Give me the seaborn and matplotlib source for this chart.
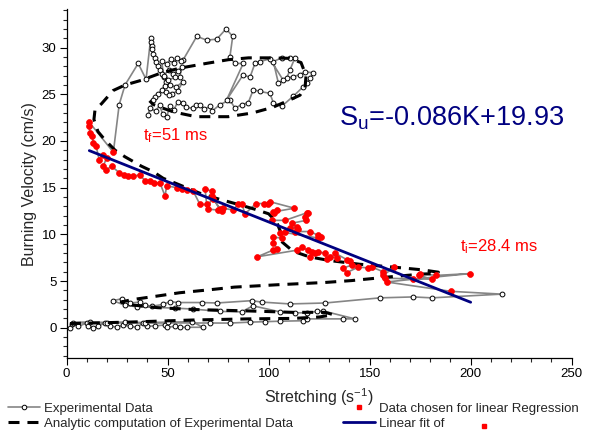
import matplotlib
matplotlib.use('Agg')
import matplotlib.pyplot as plt
from matplotlib.lines import Line2D
from matplotlib.ticker import MultipleLocator
import pandas as pd
import seaborn as sns

# experimental points before the regression window (low stretch region)
early_k = [1.6, 2.5, 5.7, 9.9, 10.7, 13.2, 15.6, 19.0, 21.4, 24.8, 28.0, 31.3, 34.7, 37.9, 39.6, 43.7, 48.7, 49.5, 53.6, 56.1, 59.4, 67.6,
           61.9, 50.3, 38.8, 28.9, 19.8, 11.5, 3.3,
           70.9, 80.8, 90.7, 98.2, 105.6, 117.0, 118.8, 136.8, 142.7,
           126.9, 123.8, 118.8, 113.0, 105.6, 92.2, 86.6, 75.9, 62.5,
           53.6, 34.7, 28.9, 22.9, 27.2, 31.3, 36.3, 38.8, 42.1, 47.7, 51.1, 55.1, 66.8, 74.3, 91.6, 96.5, 110.5, 127.9, 155.1, 171.6, 180.7, 215.3]
early_su = [0.0, 0.45, 0.15, 0.5, 0.15, 0.0, 0.2, 0.5, 0.2, 0.05, 0.3, 0.15, 0.05, 0.5, 0.15, 0.2, 0.3, 0.05, 0.15, 0.05, 0.05, 0.05,
            0.65, 0.6, 0.55, 0.6, 0.55, 0.6, 0.55,
            0.5, 0.5, 0.6, 0.65, 0.7, 0.75, 0.95, 0.95, 0.95,
            1.8, 1.75, 1.6, 1.6, 1.7, 2.35, 1.7, 1.75, 2.0,
            2.1, 2.25, 2.4, 2.9, 3.1, 2.65, 2.75, 2.4, 2.3, 2.5, 2.8, 2.7, 2.7, 2.65, 2.9, 2.75, 2.55, 2.65, 3.2, 3.3, 3.2, 3.6]

# points chosen for the linear regression (t_i=28.4 ms -> t_f=51 ms)
reg_k = [190.1, 158.4, 171.6, 199.7, 182.8, 174.9, 174.6, 180.7, 157.6, 156.7,
         162.2, 156.7, 151.0, 149.3, 144.4, 138.6, 136.9, 141.1, 140.2, 138.6,
         132.8, 134.0, 130.3, 128.7, 127.9, 124.6, 122.9, 120.4, 121.3, 119.6,
         116.3, 113.9, 94.4, 102.0, 104.3, 102.3, 102.3, 106.4, 105.6, 108.1,
         124.6, 125.7, 124.6, 120.4, 113.0, 114.7, 110.5, 113.9, 111.7, 118.5,
         118.0, 119.6, 118.8, 108.1, 101.5, 102.6, 104.0, 102.3, 112.7, 100.6,
         99.8, 97.7, 93.7, 88.3, 86.6, 85.0, 82.5, 77.5, 76.7, 75.0,
         70.1, 71.8, 75.9, 72.6, 71.8, 68.5, 69.3, 66.0, 62.7, 59.4,
         56.9, 54.5, 49.5, 48.7, 46.2, 43.4, 41.2, 38.8, 36.3, 33.0,
         30.5, 28.4, 26.0, 22.3, 19.5, 18.1, 19.8, 17.8, 16.1, 14.5,
         13.2, 12.7, 11.5, 11.2, 11.2, 23.1]
reg_su = [3.9, 4.9, 5.2, 5.8, 5.6, 5.8, 5.6, 5.2, 5.3, 5.6,
          6.5, 6.0, 6.5, 6.4, 6.5, 5.9, 6.4, 6.7, 7.1, 7.3,
          8.0, 7.5, 7.6, 7.4, 8.0, 8.1, 8.0, 7.6, 8.1, 8.3,
          8.6, 8.3, 7.6, 8.3, 8.4, 9.1, 9.7, 9.6, 10.1, 10.2,
          9.6, 9.7, 9.9, 10.3, 10.3, 10.6, 10.7, 10.8, 11.2, 11.5,
          11.9, 12.3, 12.3, 11.5, 11.5, 12.3, 12.6, 12.4, 12.8, 13.5,
          13.2, 13.3, 13.3, 12.2, 13.3, 13.3, 12.6, 12.8, 12.5, 12.6,
          12.7, 14.1, 12.7, 13.8, 14.6, 14.9, 13.2, 13.2, 14.6, 14.8,
          14.9, 15.0, 15.2, 14.1, 15.5, 15.5, 15.7, 15.7, 16.4, 16.2,
          16.2, 16.4, 16.6, 17.3, 16.9, 17.3, 18.2, 18.5, 18.0, 19.5,
          19.8, 20.5, 20.8, 21.6, 22.0, 18.8]

# experimental points after t_f (upper loop)
late_k = [26.0, 28.9, 35.4, 39.3,
          41.6, 41.7, 42.0, 42.2, 42.7, 43.5, 44.2, 45.2, 46.2, 47.2, 48.4, 49.2, 48.7, 47.2, 45.2, 43.7, 42.9,
          40.4, 41.2, 44.0, 46.0, 47.5, 49.5, 51.1, 53.0, 55.0, 57.7,
          59.0, 62.7, 64.0, 66.0, 68.0, 70.9, 72.0, 75.9, 80.8, 83.3,
          86.6, 89.9, 92.4, 95.7, 100.6, 102.3, 106.4, 112.2, 117.1, 118.8,
          120.4, 122.1, 118.0, 115.5, 112.2, 108.9, 110.5, 113.0, 110.5, 106.4,
          102.3, 104.8, 107.2, 100.6, 95.7, 93.2, 90.7, 87.4, 79.2, 87.4,
          83.3, 80.8, 82.2, 78.9, 74.3, 69.3, 64.4, 57.7,
          56.5, 54.8, 53.0, 51.5, 49.5, 47.0, 48.0, 50.5, 52.5, 55.0,
          57.0, 56.0, 53.5, 50.0, 51.0, 54.0, 57.5, 55.0, 52.0, 49.0, 50.5]
late_su = [23.9, 26.0, 28.3, 26.6,
           31.0, 30.6, 30.2, 29.8, 29.3, 28.9, 28.5, 28.0, 27.6, 27.2, 26.8, 26.3, 25.9, 25.5, 25.0, 24.7, 24.4,
           22.8, 23.5, 23.2, 23.8, 22.9, 22.6, 23.7, 23.3, 24.2, 24.1,
           23.6, 23.5, 23.9, 23.9, 23.4, 23.7, 23.2, 23.9, 24.4, 23.5,
           23.9, 24.1, 25.5, 25.3, 25.1, 24.1, 23.7, 24.8, 25.8, 26.2,
           26.7, 27.3, 27.4, 27.1, 26.9, 26.7, 27.6, 28.9, 28.9, 28.9,
           28.5, 26.2, 26.5, 28.8, 28.5, 28.3, 26.8, 27.1, 24.4, 28.3,
           28.3, 29.0, 31.2, 32.0, 30.9, 30.8, 31.2, 28.7,
           28.6, 28.9, 28.4, 28.8, 28.2, 28.6, 27.0, 27.6, 27.2, 27.5,
           27.9, 26.9, 26.8, 26.5, 26.0, 25.8, 26.3, 25.4, 25.0, 25.2, 24.9]

# analytic computation (dashed spiral)
ana_k = [1.6, 30, 62.7, 90, 112, 125, 132, 128, 112, 90,
         63, 45, 32, 27, 32, 45, 56, 70, 83, 104,
         128, 141, 160, 176, 183, 184, 176, 164, 145, 130,
         120, 112, 106, 106, 104, 100, 93, 85, 75, 66,
         53.6, 47.8, 42.9, 37, 28.9, 24, 19, 15.5, 13.5, 14,
         17.3, 23, 29, 37, 47, 56, 69, 80, 90, 100,
         110, 116, 118.5, 118, 115.5, 110.5, 102, 97, 92, 80,
         70, 64, 53, 47.8, 42.9, 41]
ana_su = [0.45, 0.6, 0.83, 0.95, 1.0, 1.15, 1.4, 1.65, 1.65, 1.8,
          1.95, 2.15, 2.45, 2.75, 3.0, 3.4, 3.75, 4.05, 4.35, 4.6,
          4.85, 5.05, 5.45, 5.75, 5.8, 5.95, 6.2, 6.45, 6.8, 7.2,
          7.6, 8.2, 9.3, 10.2, 11.3, 12.2, 12.7, 13.2, 13.8, 14.4,
          15.5, 16.0, 16.7, 17.3, 18.3, 19.0, 20.1, 21.0, 22.3, 23.3,
          24.0, 25.4, 26.0, 26.5, 27.3, 27.8, 28.3, 28.7, 28.9, 28.9,
          28.85, 28.4, 27.0, 25.7, 24.9, 24.4, 23.6, 23.3, 23.0, 22.6,
          22.6, 22.6, 23.1, 23.5, 23.9, 24.3]

# linear fit  S_u = -0.086 K + 19.93
fit_slope = -0.086
fit_intercept = 19.93
fit_k = [11.2, 200.0]

GRAY = '#858585'
NAVY = '#000080'

sns.set_theme(style='ticks')
plt.rcParams['font.family'] = ['Liberation Sans', 'DejaVu Sans']
plt.rcParams['mathtext.default'] = 'regular'

fig = plt.figure(figsize=(5.89, 4.38), dpi=100)
ax = fig.add_axes([0.1132, 0.182, 0.8574, 0.7968])

exp_df = pd.DataFrame({'K': early_k + reg_k + late_k, 'Su': early_su + reg_su + late_su})
white_df = pd.DataFrame({'K': early_k + late_k, 'Su': early_su + late_su})
fit_su = [fit_intercept + fit_slope * k for k in fit_k]

sns.lineplot(data=exp_df, x='K', y='Su', sort=False, estimator=None,
             color=GRAY, lw=1.2, ax=ax, zorder=2)
sns.scatterplot(data=white_df, x='K', y='Su', marker='o', s=12, color='white',
                edgecolor='black', linewidth=0.7, ax=ax, zorder=3)
sns.lineplot(x=ana_k, y=ana_su, sort=False, estimator=None, color='black', lw=2.2,
             linestyle=(0, (3.6, 2.6)), ax=ax, zorder=4)
sns.scatterplot(x=reg_k, y=reg_su, marker='o', s=18, color='red', edgecolor='red',
                linewidth=0.5, ax=ax, zorder=5)
sns.lineplot(x=fit_k, y=fit_su, color=NAVY, lw=2.0, ax=ax, zorder=6)

ax.set_xlim(0, 250)
ax.set_ylim(-3.27, 34.1)
ax.xaxis.set_major_locator(MultipleLocator(50))
ax.xaxis.set_minor_locator(MultipleLocator(10))
ax.yaxis.set_major_locator(MultipleLocator(5))
ax.yaxis.set_minor_locator(MultipleLocator(1))
ax.tick_params(which='major', direction='out', length=4.8, width=0.8, labelsize=9.5,
               colors='black', pad=2.5)
ax.tick_params(which='minor', direction='out', length=2.8, width=0.8)
sns.despine(ax=ax)
for side in ['left', 'bottom']:
    ax.spines[side].set_linewidth(0.9)
    ax.spines[side].set_color('black')

ax.set_xlabel('Stretching (s$^{-1}$)', fontsize=11.5, labelpad=4)
ax.set_ylabel('Burning Velocity (cm/s)', fontsize=11.5, labelpad=3)

ax.text(135, 21.7, 'S$_u$=-0.086K+19.93', color=NAVY, fontsize=19.5, va='baseline')
ax.text(37.6, 20.1, 't$_f$=51 ms', color='red', fontsize=12, va='baseline')
ax.text(194.7, 8.15, 't$_i$=28.4 ms', color='red', fontsize=12, va='baseline')

handles = [
    Line2D([], [], color=GRAY, lw=1.2, marker='o', ms=3.3, mfc='white', mec='black', mew=0.7),
    Line2D([], [], color='black', lw=2.2, ls=(0, (3.6, 2.6))),
    Line2D([], [], ls='none', marker='s', ms=3.5, color='red'),
    Line2D([], [], color=NAVY, lw=2.0),
]
labels = ['Experimental Data', 'Analytic computation of Experimental Data',
          'Data chosen for linear Regression', 'Linear fit of']
fig.legend(handles, labels, ncol=2, loc='upper left', bbox_to_anchor=(0.014, 0.081),
           frameon=False, fontsize=9.5, handlelength=2.4, handletextpad=0.3,
           columnspacing=3.8, labelspacing=0.2, borderpad=0, borderaxespad=0)
fig.add_artist(Line2D([0.822], [0.027], transform=fig.transFigure, ls='none',
                      marker='s', ms=3.5, color='red'))

fig.savefig('out.png', dpi=100)
